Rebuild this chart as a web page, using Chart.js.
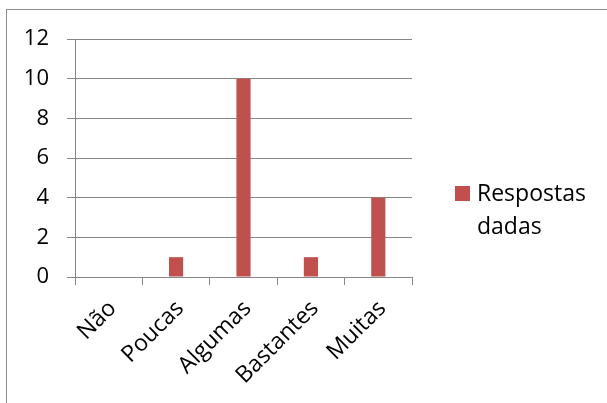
<!DOCTYPE html>
<html>
<head>
<meta charset="utf-8">
<script src="https://cdn.jsdelivr.net/npm/chart.js@4"></script>
<style>
  html, body { margin: 0; padding: 0; background: #fff; }
  #wrap { position: relative; width: 607px; height: 403px; }
  canvas { display: block; }
</style>
</head>
<body>
<div id="wrap"><canvas id="c" width="607" height="403"></canvas></div>
<script>
// Survey answers per category
const categories = ['Não', 'Poucas', 'Algumas', 'Bastantes', 'Muitas'];
const respostas = [0, 1, 10, 1, 4];
const seriesLabel = 'Respostas dadas';
const yMin = 0, yMax = 12, yStep = 2;

const FONT = '"Open Sans", Lato, sans-serif';
const GRID = '#868686';
const BAR = '#C0504D';

// Frame around the whole chart (left and top edges visible)
const framePlugin = {
  id: 'frame',
  beforeDraw(chart) {
    const ctx = chart.ctx;
    ctx.save();
    ctx.strokeStyle = '#8c8c8c';
    ctx.lineWidth = 1;
    ctx.strokeRect(6.5, 9.5, chart.width + 20, chart.height + 20);
    ctx.restore();
  }
};

// Legend to the right, label wrapped onto two lines
const sideLegend = {
  id: 'sideLegend',
  afterDraw(chart) {
    const ctx = chart.ctx;
    const ds = chart.data.datasets[0];
    const words = ds.label.split(' ');
    const x0 = 455, y0 = 194;
    ctx.save();
    ctx.fillStyle = ds.backgroundColor;
    ctx.fillRect(x0, y0 - 8, 15, 15);
    ctx.fillStyle = '#000';
    ctx.font = '23px ' + FONT;
    ctx.textBaseline = 'middle';
    ctx.textAlign = 'left';
    words.forEach((w, i) => ctx.fillText(w, x0 + 22, y0 + i * 33));
    ctx.restore();
  }
};

new Chart(document.getElementById('c'), {
  type: 'bar',
  data: {
    labels: categories,
    datasets: [{
      label: seriesLabel,
      data: respostas,
      backgroundColor: BAR,
      borderWidth: 0,
      barPercentage: 0.21,
      categoryPercentage: 1
    }]
  },
  options: {
    responsive: false,
    animation: false,
    devicePixelRatio: 1,
    layout: { padding: { top: 39, right: 195, left: 0, bottom: 0 } },
    plugins: {
      legend: { display: false },
      tooltip: { enabled: false }
    },
    scales: {
      y: {
        min: yMin,
        max: yMax,
        ticks: { stepSize: yStep, color: '#000', font: { family: FONT, size: 22 }, padding: 18 },
        grid: { color: GRID, lineWidth: 1, tickLength: 8 },
        border: { color: GRID, width: 1 },
        afterFit(s) { s.width = 75; }
      },
      x: {
        offset: true,
        ticks: { color: '#000', font: { family: FONT, size: 23 }, minRotation: 45, maxRotation: 45, padding: 10, labelOffset: 4 },
        grid: { offset: true, drawOnChartArea: false, color: GRID, tickLength: 8 },
        border: { color: GRID, width: 1 },
        afterFit(s) { s.height = 126; }
      }
    }
  },
  plugins: [framePlugin, sideLegend]
});
</script>
</body>
</html>
